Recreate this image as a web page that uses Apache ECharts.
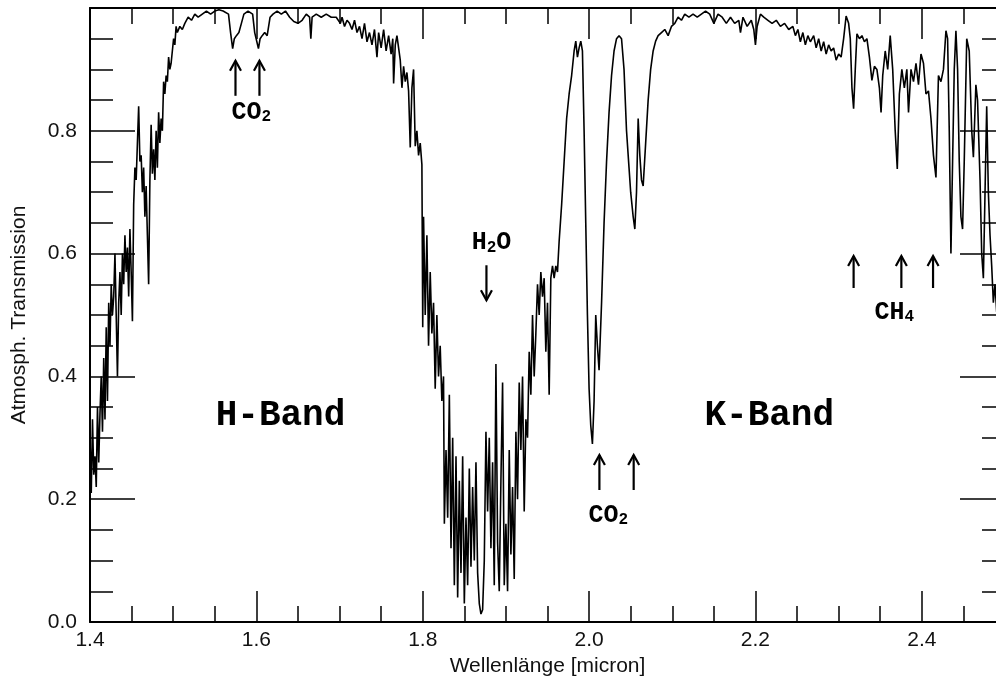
<!DOCTYPE html>
<html>
<head>
<meta charset="utf-8">
<script src="https://cdn.jsdelivr.net/npm/echarts@6/dist/echarts.min.js"></script>
<style>
  html, body { margin: 0; padding: 0; background: #fff; }
  #chart { width: 996px; height: 682px; }
</style>
</head>
<body>
<div id="chart"></div>
<script>
// [wavelength (micron), transmission], segment by segment
// rising edge of the H band
const hEdge = [
  [1.400,0.30],[1.4015,0.21],[1.403,0.33],[1.4045,0.24],[1.406,0.27],[1.4075,0.22],[1.409,0.35],[1.4105,0.26],
  [1.412,0.34],[1.4135,0.40],[1.415,0.31],[1.4165,0.43],[1.418,0.33],[1.4195,0.48],[1.421,0.36],[1.4225,0.52],
  [1.424,0.45],[1.4255,0.55],[1.427,0.50],[1.4285,0.53],[1.430,0.60],[1.4315,0.50],[1.433,0.40],[1.4345,0.52],
  [1.436,0.57],[1.4375,0.50],[1.439,0.60],[1.4405,0.55],[1.442,0.63],[1.4435,0.57],[1.445,0.61],[1.4465,0.53],
  [1.448,0.64],[1.4495,0.57],[1.451,0.49],[1.4525,0.68],[1.454,0.74],[1.4555,0.72],[1.457,0.78],[1.4585,0.84],
  [1.460,0.75],[1.4615,0.76],[1.463,0.70],[1.4645,0.74],[1.466,0.66],[1.4675,0.71],[1.469,0.63],[1.4705,0.55],
  [1.472,0.72],[1.4735,0.81],[1.475,0.73],[1.4765,0.77],[1.478,0.72],[1.4795,0.80],[1.481,0.74],[1.4825,0.83],
  [1.484,0.78],[1.4855,0.82],[1.487,0.80],[1.4885,0.88],[1.490,0.86],[1.4915,0.89],[1.493,0.88],[1.4945,0.92],
  [1.496,0.90],[1.4975,0.91],[1.499,0.93],[1.5005,0.95],[1.502,0.94],[1.5035,0.97],[1.505,0.96],[1.508,0.97],
  [1.511,0.965],[1.514,0.975]
];
// H band plateau with the two CO2 lines
const hPlateau = [
  [1.518,0.985],[1.522,0.98],[1.526,0.99],[1.530,0.985],[1.535,0.99],[1.540,0.995],[1.545,0.99],[1.550,0.995],
  [1.555,0.997],[1.560,0.995],[1.5665,0.99],[1.569,0.96],[1.5715,0.934],[1.5735,0.95],[1.576,0.955],[1.579,0.96],
  [1.582,0.975],[1.585,0.99],[1.590,0.995],[1.5955,0.99],[1.598,0.96],[1.6025,0.934],[1.6045,0.95],[1.607,0.955],
  [1.610,0.96],[1.613,0.955],[1.6165,0.985],[1.620,0.99],[1.625,0.995],[1.630,0.99],[1.635,0.995],[1.640,0.985],
  [1.645,0.978],[1.650,0.975],[1.655,0.98],[1.660,0.99],[1.664,0.985],[1.6655,0.95],[1.667,0.985],[1.672,0.99],
  [1.678,0.985],[1.684,0.99],[1.690,0.985],[1.696,0.985],[1.701,0.975],[1.703,0.985],[1.706,0.97],[1.709,0.98],
  [1.712,0.975],[1.715,0.965],[1.718,0.98],[1.721,0.96],[1.724,0.97],[1.727,0.95],[1.730,0.975],[1.733,0.945],
  [1.736,0.96],[1.739,0.94],[1.742,0.965],[1.745,0.92],[1.747,0.96],[1.750,0.935],[1.753,0.965],[1.756,0.93],
  [1.759,0.955],[1.762,0.925],[1.764,0.95],[1.765,0.877],[1.767,0.94],[1.769,0.955],[1.771,0.935],[1.773,0.915],
  [1.775,0.87],[1.777,0.905],[1.779,0.88],[1.781,0.895],[1.783,0.865],[1.785,0.773],[1.787,0.87],[1.789,0.90],
  [1.791,0.775],[1.793,0.80],[1.795,0.76],[1.797,0.78],[1.799,0.745]
];
// H2O absorption between the bands
const waterGap = [
  [1.800,0.48],[1.801,0.66],[1.803,0.50],[1.805,0.63],[1.807,0.45],[1.809,0.57],[1.811,0.47],[1.813,0.52],
  [1.815,0.38],[1.817,0.50],[1.819,0.40],[1.821,0.45],[1.823,0.36],[1.825,0.40],[1.826,0.16],[1.828,0.28],
  [1.830,0.17],[1.832,0.37],[1.834,0.12],[1.836,0.30],[1.838,0.06],[1.840,0.27],[1.842,0.04],[1.844,0.23],
  [1.846,0.08],[1.848,0.27],[1.850,0.03],[1.852,0.17],[1.854,0.06],[1.856,0.25],[1.858,0.09],[1.860,0.22],
  [1.862,0.10],[1.864,0.26],[1.866,0.08],[1.868,0.03],[1.870,0.013],[1.872,0.02],[1.874,0.10],[1.876,0.31],
  [1.878,0.18],[1.880,0.30],[1.882,0.12],[1.884,0.26],[1.886,0.06],[1.888,0.42],[1.890,0.13],[1.892,0.05],
  [1.894,0.23],[1.896,0.39],[1.898,0.06],[1.900,0.16],[1.902,0.05],[1.904,0.28],[1.906,0.11],[1.908,0.22],
  [1.910,0.07],[1.912,0.31],[1.914,0.20],[1.916,0.39],[1.918,0.28],[1.920,0.40],[1.922,0.18],[1.924,0.33],
  [1.926,0.30],[1.928,0.44],[1.930,0.37],[1.932,0.50],[1.934,0.40],[1.936,0.47],[1.938,0.55],[1.940,0.50],
  [1.942,0.57],[1.944,0.53],[1.946,0.56],[1.948,0.44],[1.950,0.52],[1.952,0.37],[1.954,0.56],[1.956,0.58],
  [1.958,0.56],[1.960,0.58],[1.962,0.57],[1.964,0.62],[1.967,0.68],[1.970,0.75],[1.973,0.82],[1.976,0.86],
  [1.979,0.89],[1.982,0.93],[1.984,0.946],[1.986,0.92],[1.988,0.935],[1.990,0.946],[1.992,0.93]
];
// CO2 pair at 2.0 micron
const kCarbon = [
  [1.994,0.80],[1.996,0.65],[1.998,0.50],[2.000,0.38],[2.002,0.32],[2.004,0.29],[2.006,0.36],[2.008,0.50],
  [2.010,0.45],[2.012,0.41],[2.015,0.52],[2.018,0.65],[2.021,0.75],[2.024,0.83],[2.027,0.89],[2.030,0.93],
  [2.033,0.95],[2.036,0.955],[2.039,0.95],[2.042,0.90],[2.045,0.80],[2.048,0.74],[2.050,0.70],[2.053,0.66],
  [2.055,0.64],[2.057,0.70],[2.059,0.82],[2.061,0.76],[2.063,0.72],[2.065,0.71],[2.068,0.78],[2.071,0.85],
  [2.074,0.90],[2.077,0.93]
];
// K band plateau
const kPlateau = [
  [2.080,0.946],[2.083,0.955],[2.087,0.96],[2.091,0.965],[2.095,0.955],[2.099,0.97],[2.103,0.975],[2.107,0.985],
  [2.111,0.98],[2.115,0.99],[2.120,0.985],[2.125,0.99],[2.130,0.985],[2.135,0.99],[2.140,0.995],[2.145,0.99],
  [2.150,0.975],[2.155,0.99],[2.160,0.985],[2.165,0.975],[2.170,0.985],[2.175,0.975],[2.180,0.98],[2.182,0.96],
  [2.185,0.985],[2.190,0.97],[2.195,0.98],[2.198,0.965],[2.200,0.94],[2.202,0.97],[2.206,0.99],[2.210,0.985],
  [2.215,0.98],[2.220,0.975],[2.225,0.98],[2.230,0.97],[2.235,0.975],[2.240,0.965],[2.245,0.97],[2.248,0.955],
  [2.251,0.965],[2.254,0.945],[2.257,0.96],[2.260,0.94],[2.263,0.955]
];
// CH4 lines and the red end of the K band
const kMethane = [
  [2.266,0.945],[2.270,0.955],[2.273,0.935],[2.276,0.95],[2.279,0.93],[2.282,0.945],[2.285,0.925],[2.288,0.94],
  [2.291,0.93],[2.294,0.935],[2.297,0.915],[2.300,0.925],[2.303,0.92],[2.306,0.95],[2.309,0.987],[2.312,0.975],
  [2.314,0.95],[2.316,0.87],[2.318,0.836],[2.320,0.90],[2.322,0.958],[2.325,0.95],[2.328,0.955],[2.331,0.945],
  [2.334,0.95],[2.337,0.92],[2.340,0.882],[2.343,0.905],[2.346,0.90],[2.349,0.87],[2.351,0.83],[2.353,0.89],
  [2.356,0.93],[2.359,0.90],[2.362,0.955],[2.365,0.90],[2.368,0.80],[2.3705,0.738],[2.373,0.86],[2.376,0.90],
  [2.379,0.87],[2.382,0.90],[2.384,0.83],[2.387,0.90],[2.390,0.88],[2.393,0.91],[2.396,0.875],[2.399,0.925],
  [2.402,0.91],[2.405,0.86],[2.408,0.865],[2.411,0.82],[2.414,0.76],[2.417,0.724],[2.420,0.89],[2.423,0.88],
  [2.426,0.90],[2.429,0.963],[2.431,0.95],[2.433,0.80],[2.435,0.60],[2.437,0.75],[2.439,0.90],[2.441,0.963],
  [2.443,0.90],[2.445,0.75],[2.447,0.66],[2.449,0.64],[2.451,0.75],[2.454,0.95],[2.457,0.93],[2.460,0.80],
  [2.462,0.757],[2.465,0.875],[2.467,0.85],[2.470,0.72],[2.472,0.60],[2.474,0.56],[2.476,0.70],[2.478,0.84],
  [2.480,0.70],[2.482,0.63],[2.484,0.58],[2.486,0.52],[2.488,0.55],[2.490,0.505]
];

const spectrum = [].concat(hEdge, hPlateau, waterGap, kCarbon, kPlateau, kMethane);

const sansFont = '"Liberation Sans", Arial, Helvetica, sans-serif';
const monoFont = '"Liberation Mono", "Courier New", monospace';

let chart = echarts.init(document.getElementById('chart'));

// axis helper, the frame has ticks on all four sides
function makeAxis(position, majorLen, minorLen, showLabel, extra) {
  return Object.assign({
    type: 'value',
    position: position,
    axisLine: { show: true, onZero: false, lineStyle: { color: '#000', width: 2 } },
    axisTick: { show: true, inside: true, length: majorLen, lineStyle: { color: '#000', width: 1.5 } },
    minorTick: { show: true, splitNumber: 4, length: minorLen, lineStyle: { color: '#000', width: 1.5 } },
    splitLine: { show: false },
    axisLabel: {
      show: showLabel,
      fontFamily: sansFont,
      fontSize: 21,
      color: '#111',
      showMaxLabel: false,
      formatter: (v) => v.toFixed(1)
    }
  }, extra);
}

let option = {
  animation: false,
  // the right frame edge (2.5 micron) lies just outside the picture
  grid: { left: 90, top: 8, width: 915, bottom: 60, containLabel: false, outerBoundsMode: 'none' },
  xAxis: [
    makeAxis('bottom', 31, 16, true, {
      min: 1.4, max: 2.5, interval: 0.2,
      name: 'Wellenlänge [micron]',
      nameLocation: 'middle',
      nameGap: 31,
      nameTextStyle: { fontFamily: sansFont, fontSize: 21, color: '#111' }
    }),
    makeAxis('top', 31, 16, false, { min: 1.4, max: 2.5, interval: 0.2 })
  ],
  yAxis: [
    makeAxis('left', 45, 23, true, {
      min: 0, max: 1, interval: 0.2,
      name: 'Atmosph. Transmission',
      nameLocation: 'middle',
      nameGap: 60,
      nameTextStyle: { fontFamily: sansFont, fontSize: 21, color: '#111' }
    }),
    makeAxis('right', 45, 23, false, { min: 0, max: 1, interval: 0.2 })
  ],
  series: [{
    type: 'line',
    xAxisIndex: 0,
    yAxisIndex: 0,
    data: spectrum,
    symbol: 'none',
    lineStyle: { color: '#000', width: 1.6 }
  }]
};
option.yAxis[0].axisLabel.margin = 13;
chart.setOption(option);

// annotations, placed in data units [wavelength, transmission]
const bandLabels = [
  { text: 'H-Band', at: [1.629, 0.335] },
  { text: 'K-Band', at: [2.2166, 0.335] }
];
const moleculeLabels = [
  { text: '{m|CO}{s|2}', at: [1.594, 0.831] },
  { text: '{m|H}{s|2}{m|O}', at: [1.8826, 0.618] },
  { text: '{m|CO}{s|2}', at: [2.0232, 0.174] },
  { text: '{m|CH}{s|4}', at: [2.367, 0.505] }
];
// [wavelength, tail, head]
const arrows = [
  [1.5749, 0.857, 0.914], [1.6037, 0.857, 0.914],
  [1.8766, 0.581, 0.524],
  [2.0124, 0.215, 0.272], [2.0536, 0.215, 0.272],
  [2.318, 0.544, 0.596], [2.3754, 0.544, 0.596], [2.4135, 0.544, 0.596]
];

const toPx = (p) => chart.convertToPixel({ xAxisIndex: 0, yAxisIndex: 0 }, p);

let graphic = [];
bandLabels.forEach((b) => {
  let p = toPx(b.at);
  graphic.push({
    type: 'text', x: p[0], y: p[1],
    style: {
      text: b.text, fill: '#000', font: 'bold 36px ' + monoFont,
      align: 'center', verticalAlign: 'middle'
    }
  });
});
moleculeLabels.forEach((m) => {
  let p = toPx(m.at);
  graphic.push({
    type: 'text', x: p[0], y: p[1],
    style: {
      text: m.text, fill: '#000', align: 'center', verticalAlign: 'middle',
      rich: {
        m: { fontFamily: monoFont, fontWeight: 'bold', fontSize: 25, verticalAlign: 'bottom', lineHeight: 26 },
        s: { fontFamily: monoFont, fontWeight: 'bold', fontSize: 16, verticalAlign: 'bottom', lineHeight: 26 }
      }
    }
  });
});
arrows.forEach((a) => {
  let tail = toPx([a[0], a[1]]);
  let head = toPx([a[0], a[2]]);
  let dir = head[1] < tail[1] ? 1 : -1; // 1: pointing up
  graphic.push({
    type: 'line',
    shape: { x1: tail[0], y1: tail[1], x2: head[0], y2: head[1] },
    style: { stroke: '#000', lineWidth: 2.2 }
  });
  graphic.push({
    type: 'polyline',
    shape: { points: [[head[0] - 5.5, head[1] + dir * 10], [head[0], head[1]], [head[0] + 5.5, head[1] + dir * 10]] },
    style: { stroke: '#000', lineWidth: 2.2, fill: null }
  });
});
chart.setOption({ graphic: graphic });
</script>
</body>
</html>
